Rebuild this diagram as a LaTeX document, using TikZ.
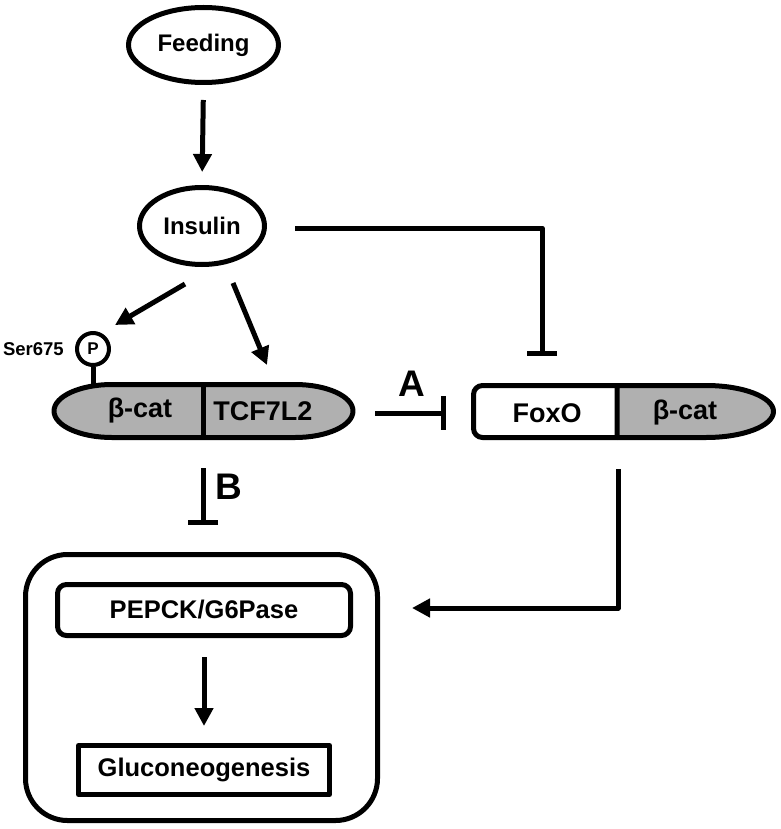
\documentclass[tikz,border=0pt]{standalone}
\usepackage{fontspec}
\setmainfont{Liberation Sans}
\usetikzlibrary{arrows.meta,shapes.geometric}
\definecolor{protgray}{RGB}{176,176,176}
\begin{document}
\begin{tikzpicture}[x=1pt,y=1pt,
  lw/.style={line width=5pt},
  arr/.style={lw,-{Triangle[length=18pt,width=18pt]}},
  inh/.style={lw,-{Bar[width=#1]}},
  ell/.style={ellipse,draw,lw,inner sep=0pt,font=\bfseries\fontsize{24}{28}\selectfont},
  prot/.style={inner sep=0pt,font=\bfseries\fontsize{27}{30}\selectfont},
  boxtxt/.style={inner sep=0pt,font=\bfseries\fontsize{25.5}{30}\selectfont},
  lbl/.style={inner sep=0pt,font=\bfseries\fontsize{37}{40}\selectfont},
  line join=round]
\useasboundingbox (0,0) rectangle (780,-829);
% top nodes
\node[ell,minimum width=150pt,minimum height=75pt] (feed) at (203.5,-45) {Feeding};
\node[ell,minimum width=125pt,minimum height=77pt] (ins) at (202,-226) {Insulin};
\draw[arr,shorten <=15pt,shorten >=13pt] (feed.south) -- (ins.north);

% left complex
\draw[lw,fill=protgray] (112,-384.5) -- (295,-384.5)
  arc[start angle=90,end angle=-90,x radius=58,y radius=26.5]
  -- (112,-437.5) arc[start angle=270,end angle=90,x radius=58,y radius=26.5] -- cycle;
\draw[lw] (203,-384.5) -- (203,-437.5);
\node[prot] (bcatL) at (140,-411) {β-cat};
\node[prot] (tcf) at (263,-411) {TCF7L2};
\coordinate (tcfE) at (375,-413);
\coordinate (tcfS) at (203,-468);

% phospho
\node[circle,draw,line width=4pt,minimum size=32pt,inner sep=0pt,font=\bfseries\fontsize{17}{20}\selectfont] (p) at (93,-349) {P};
\draw[lw] (p.south) -- (93,-384);
\node[anchor=east,inner sep=0pt,font=\bfseries\fontsize{18.5}{22}\selectfont] (ser) at (64,-349) {Ser675};

% right complex
\path[draw,lw,fill=white,rounded corners=9pt] (617,-385.5) -- (473.5,-385.5) -- (473.5,-437.5) -- (617,-437.5);
\draw[lw,fill=protgray] (617,-385.5) -- (706,-385.5)
  arc[start angle=90,end angle=-90,x radius=67.5,y radius=26] -- (617,-437.5) -- cycle;
\node[prot] (foxo) at (547,-413) {FoxO};
\node[prot] (bcatR) at (685,-413) {β-cat};
\coordinate (foxoW) at (446,-413);
\coordinate (foxoN) at (542,-356);
\coordinate (foxoS) at (618,-469);

% insulin connectors
\coordinate (i1) at (185,-284);
\coordinate (p1) at (115,-325);
\coordinate (i2) at (233,-283);
\coordinate (t1) at (267,-365);
\coordinate (i3) at (295,-228);
\draw[arr] (i1) -- (p1);
\draw[arr] (i2) -- (t1);
\draw[inh=30pt] (i3) -| (foxoN);

% A and B
\draw[inh=34pt] (tcfE) -- (foxoW);
\node[lbl] (A) at (412,-384) {A};
\coordinate (bEnd) at (203,-525);
\draw[inh=30pt] (tcfS) -- (bEnd);
\node[lbl] (B) at (229,-487) {B};

% bottom box
\draw[lw,rounded corners=42pt] (25.5,-554.5) rectangle (377.5,-820.5);
\node[draw,lw,rounded corners=9pt,boxtxt,minimum width=293pt,minimum height=51pt] (pep) at (204,-610) {PEPCK/G6Pase};
\node[draw,lw,boxtxt,minimum width=251pt,minimum height=49pt] (glu) at (204,-770) {Gluconeogenesis};
\draw[arr,shorten <=19pt,shorten >=17pt] (pep.south) -- (glu.north);
\coordinate (bx) at (412,-608);
\draw[arr] (foxoS) |- (bx);
\end{tikzpicture}
\end{document}
